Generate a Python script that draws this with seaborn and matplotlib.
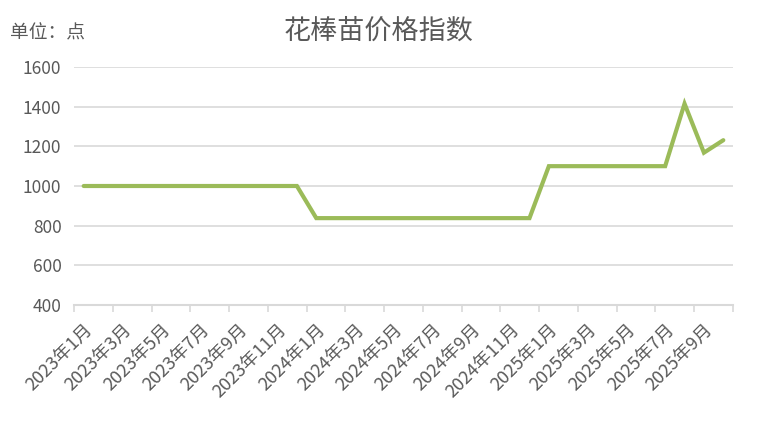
import matplotlib
matplotlib.use("Agg")
import matplotlib.pyplot as plt
import seaborn as sns
import pandas as pd
import numpy as np

# Data
months = []
for y in (2023, 2024, 2025):
    for m in range(1, 13):
        months.append(f"{y}年{m}月")
months = months[:34]  # 2023年1月 .. 2025年10月
values = ([1000] * 12 + [838] * 12 + [1100] * 7 + [1415, 1168, 1231])
y_ticks = [400, 600, 800, 1000, 1200, 1400, 1600]

df = pd.DataFrame({"idx": np.arange(len(months)), "month": months, "value": values})

sns.set_theme(style="white")
plt.rcParams['font.family'] = ['Noto Sans CJK SC', 'DejaVu Sans']
plt.rcParams['font.weight'] = 'light'

text_color = "#595959"
grid_color = "#D9D9D9"
line_color = "#9BBB59"

fig = plt.figure(figsize=(7.58, 4.32), dpi=100)
ax = fig.add_axes([74/758, 1-305/432, (733-74)/758, (305-67)/432])

sns.lineplot(data=df, x="idx", y="value", ax=ax, color=line_color, linewidth=3.0,
             solid_capstyle="round", solid_joinstyle="miter", zorder=3)

ax.set_xlim(-0.5, len(months) - 0.5)
ax.set_ylim(400, 1600)
ax.set_yticks(y_ticks)
ax.set_yticklabels([str(v) for v in y_ticks], color=text_color, fontsize=12.5, fontweight='light')
ax.tick_params(axis="y", length=0, pad=9)
for v in y_ticks[1:]:
    ax.axhline(v, color=grid_color, linewidth=1.2, zorder=1)

major = np.arange(0, len(months), 2)
ax.set_xticks(major)
ax.set_xticklabels([months[i] for i in major], rotation=45, ha="right",
                   rotation_mode="anchor", color=text_color, fontsize=13, fontweight='light')
ax.set_xticks(np.arange(-0.5, len(months), 2), minor=True)
ax.tick_params(axis="x", which="major", length=0, pad=11)
ax.tick_params(axis="x", which="minor", length=5, width=1.2, color=grid_color, bottom=True)

for s in ("top", "right", "left"):
    ax.spines[s].set_visible(False)
ax.spines["bottom"].set_color(grid_color)
ax.spines["bottom"].set_linewidth(1.5)
ax.set_xlabel("")
ax.set_ylabel("")

fig.text(379/758, 1-31/432, "花棒苗价格指数", ha="center", va="center",
         fontsize=19.5, color=text_color, fontweight='light')
fig.text(10/758, 1-33/432, "单位：点", ha="left", va="center",
         fontsize=13.5, color=text_color, fontweight='light')

fig.savefig("out.png", dpi=100, facecolor="white")
